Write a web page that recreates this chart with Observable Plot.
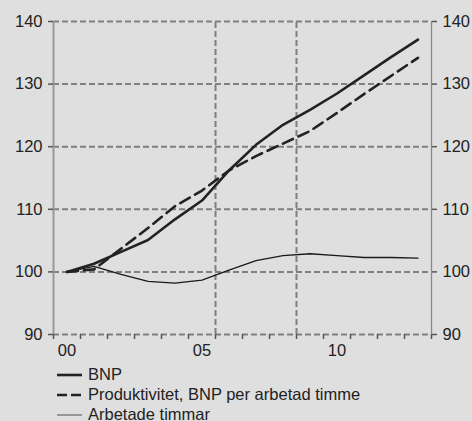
<!DOCTYPE html>
<html>
<head>
<meta charset="utf-8">
<script src="https://cdn.jsdelivr.net/npm/d3@7"></script>
<script src="https://cdn.jsdelivr.net/npm/@observablehq/plot@0.6"></script>
<style>
  html, body { margin: 0; padding: 0; background: #dfdfdf; }
  body { width: 472px; height: 421px; overflow: hidden; font-family: "Liberation Sans", Arial, sans-serif; color: #222; }
  #legend { position: relative; margin-left: 57px; font-size: 16.5px; line-height: 19.7px; margin-top: 3.4px; }
  #legend .row { display: flex; align-items: center; height: 19.7px; white-space: nowrap; }
  #legend svg { margin-right: 6px; flex: none; }
</style>
</head>
<body>
<div id="chart"></div>
<div id="legend"></div>
<script>
const years = [2000, 2001, 2002, 2003, 2004, 2005, 2006, 2007, 2008, 2009, 2010, 2011, 2012, 2013];
const bnp   = [100, 101.3, 103.2, 105.1, 108.4, 111.4, 116.2, 120.3, 123.5, 125.9, 128.5, 131.4, 134.3, 137.1];
const prod  = [100, 100.4, 103.7, 107.0, 110.5, 113.0, 116.2, 118.5, 120.5, 122.5, 125.4, 128.4, 131.3, 134.2];
const hours = [100, 100.9, 99.6, 98.5, 98.2, 98.7, 100.3, 101.8, 102.6, 102.9, 102.6, 102.3, 102.3, 102.2];
const seriesNames = ["BNP", "Produktivitet, BNP per arbetad timme", "Arbetade timmar"];
const yTicks = [90, 100, 110, 120, 130, 140];
const xTickLabels = ["00", "05", "10"];
const xLabelYears = [2000, 2005, 2010];
const markerYears = [2006, 2009];

const mk = (vals) => years.map((y, i) => ({x: y + 0.5, v: vals[i]}));
const font = "'Liberation Sans', Arial, sans-serif";
const grid = "#808080";

const chart = Plot.plot({
  width: 472,
  height: 362,
  marginTop: 21,
  marginBottom: 28,
  marginLeft: 53,
  marginRight: 41,
  style: {background: "transparent", fontFamily: font, color: "#222"},
  x: {domain: [years[0], years[years.length - 1] + 1]},
  y: {domain: [90, 140]},
  marks: [
    Plot.ruleY(yTicks, {stroke: grid, strokeWidth: 2, strokeDasharray: "6,3"}),
    Plot.ruleX(markerYears, {y1: 90, y2: 140, stroke: grid, strokeWidth: 2, strokeDasharray: "6,3"}),
    Plot.ruleX([years[0]], {y1: 90, y2: 140, stroke: "#999", strokeWidth: 2}),
    Plot.ruleX([years[years.length - 1] + 1], {y1: 90, y2: 140, stroke: "#888", strokeWidth: 1.3}),
    Plot.axisY({anchor: "left", ticks: yTicks, tickSize: 5, tickPadding: 6, fontSize: 16.5, stroke: "#555", strokeWidth: 1.5, fill: "#222", label: null}),
    Plot.axisY({anchor: "right", ticks: yTicks, tickSize: 5, tickPadding: 6, fontSize: 16.5, stroke: "#555", strokeWidth: 1.5, fill: "#222", label: null}),
    Plot.axisX({ticks: d3.range(years[0], years[years.length - 1] + 2), tickSize: 5, tickFormat: () => "", stroke: "#555", strokeWidth: 1.5, label: null}),
    Plot.axisX({ticks: xLabelYears.map(y => y + 0.5), tickSize: 0, tickPadding: 10, fontSize: 16.5, fill: "#222",
      tickFormat: (d) => xTickLabels[xLabelYears.indexOf(d - 0.5)], label: null}),
    Plot.line(mk(hours), {x: "x", y: "v", stroke: "#1a1a1a", strokeWidth: 1.3}),
    Plot.line(mk(prod), {x: "x", y: "v", stroke: "#222", strokeWidth: 2.6, strokeDasharray: "11,6"}),
    Plot.line(mk(bnp), {x: "x", y: "v", stroke: "#222", strokeWidth: 2.6})
  ]
});
document.getElementById("chart").appendChild(chart);

const styles = [
  {w: 2.6, dash: null, c: "#222"},
  {w: 2.6, dash: "10,4", c: "#222"},
  {w: 1.2, dash: null, c: "#666"}
];
const legend = document.getElementById("legend");
seriesNames.forEach((name, i) => {
  const row = document.createElement("div");
  row.className = "row";
  const s = styles[i];
  row.innerHTML = `<svg width="25" height="6"><line x1="0" x2="25" y1="3" y2="3" stroke="${s.c}" stroke-width="${s.w}" ${s.dash ? `stroke-dasharray="${s.dash}"` : ""}/></svg><span>${name}</span>`;
  legend.appendChild(row);
});
</script>
</body>
</html>
